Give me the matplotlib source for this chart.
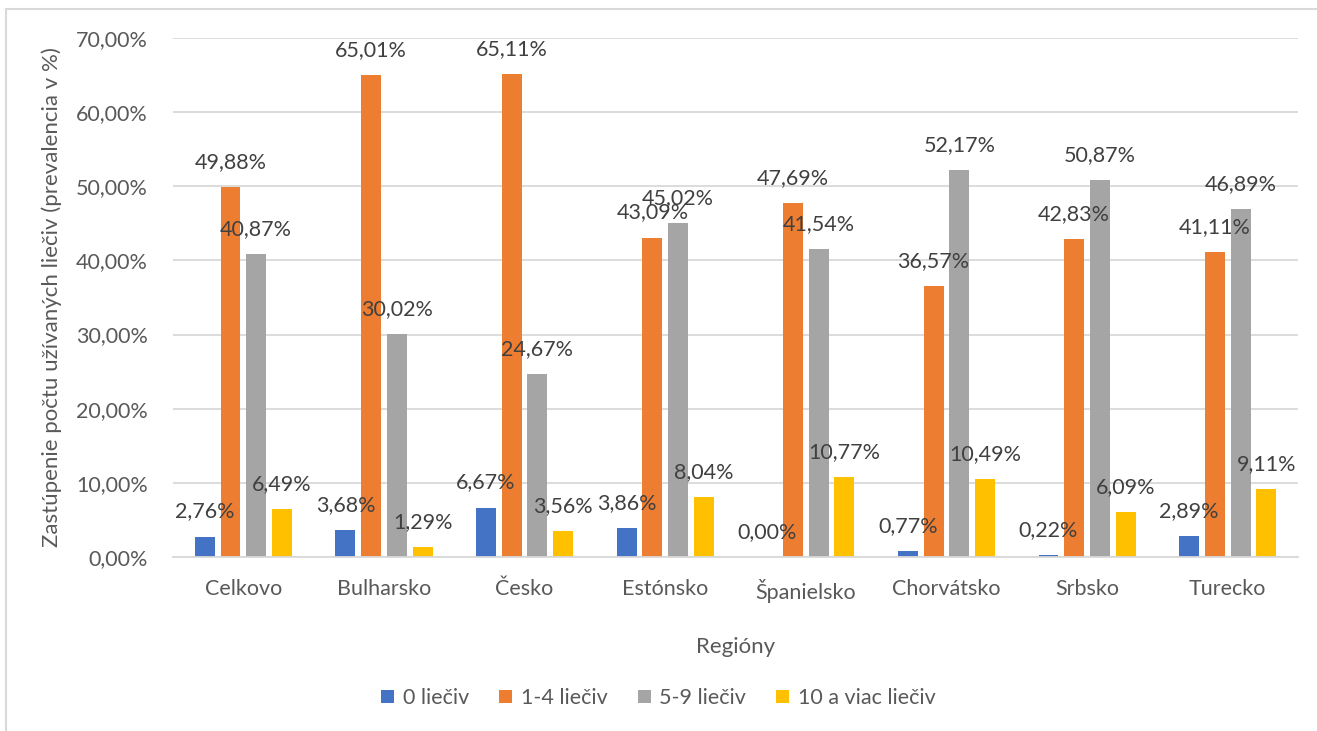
import matplotlib.pyplot as plt
from matplotlib.lines import Line2D
import numpy as np

plt.rcParams['font.family'] = ['Lato', 'DejaVu Sans']

regiony = ['Celkovo', 'Bulharsko', 'Česko', 'Estónsko', 'Španielsko', 'Chorvátsko', 'Srbsko', 'Turecko']
serie = ['0 liečiv', '1-4 liečiv', '5-9 liečiv', '10 a viac liečiv']
hodnoty_0 = [2.76, 3.68, 6.67, 3.86, 0.00, 0.77, 0.22, 2.89]
hodnoty_1_4 = [49.88, 65.01, 65.11, 43.09, 47.69, 36.57, 42.83, 41.11]
hodnoty_5_9 = [40.87, 30.02, 24.67, 45.02, 41.54, 52.17, 50.87, 46.89]
hodnoty_10 = [6.49, 1.29, 3.56, 8.04, 10.77, 10.49, 6.09, 9.11]
farby = ['#4472C4', '#ED7D31', '#A5A5A5', '#FFC000']

text_col = '#595959'
grid_col = '#D9D9D9'
fs = 15.5

fig = plt.figure(figsize=(13.17, 7.31), dpi=100)
ax = fig.add_axes([0.1314, 0.238, 0.8542, 0.710])

x = np.arange(len(regiony))
sirka = 0.142
krok = 0.183
vsetky = [hodnoty_0, hodnoty_1_4, hodnoty_5_9, hodnoty_10]
for i, (vals, nazov, f) in enumerate(zip(vsetky, serie, farby)):
    pos = x + (i - 1.5) * krok
    ax.bar(pos, vals, width=sirka, color=f, label=nazov, zorder=2)
    for px, v in zip(pos, vals):
        ax.annotate(f'{v:.2f}%'.replace('.', ','), (px, v), xytext=(0, 18),
                    textcoords='offset points', ha='center', va='center',
                    fontsize=fs, color='#404040', zorder=3)

ax.set_xlim(-0.5, len(regiony) - 0.5)
ax.set_ylim(0, 70)
ax.set_yticks(np.arange(0, 71, 10))
ax.set_yticklabels([f'{t:.2f}%'.replace('.', ',') for t in np.arange(0, 71, 10)])
ax.set_xticks(x)
ax.set_xticklabels(regiony)
ax.tick_params(axis='both', length=0, labelsize=fs, colors=text_col)
ax.tick_params(axis='x', pad=16)
ax.tick_params(axis='y', pad=18)
ax.grid(axis='y', color=grid_col, linewidth=1.3, zorder=0)
for s in ['top', 'right', 'left']:
    ax.spines[s].set_visible(False)
ax.spines['bottom'].set_color(grid_col)
ax.spines['bottom'].set_linewidth(1.3)

ax.set_xlabel('Regióny', fontsize=16, color=text_col, labelpad=24)
ax.set_ylabel('Zastúpenie počtu užívaných liečiv (prevalencia v %)', fontsize=16,
              color=text_col, labelpad=10)

fig.legend(loc='center', bbox_to_anchor=(0.5, 0.045), ncol=4, frameon=False,
           fontsize=fs, labelcolor=text_col, handlelength=0.6, handleheight=0.6,
           handletextpad=0.4, columnspacing=1.4)

# ram grafu
fig.add_artist(Line2D([6 / 1317, 6 / 1317], [0, 1 - 9 / 731], transform=fig.transFigure,
                      color=grid_col, linewidth=1.5))
fig.add_artist(Line2D([6 / 1317, 1], [1 - 9 / 731, 1 - 9 / 731], transform=fig.transFigure,
                      color=grid_col, linewidth=1.5))

fig.savefig('out.png', dpi=100)
